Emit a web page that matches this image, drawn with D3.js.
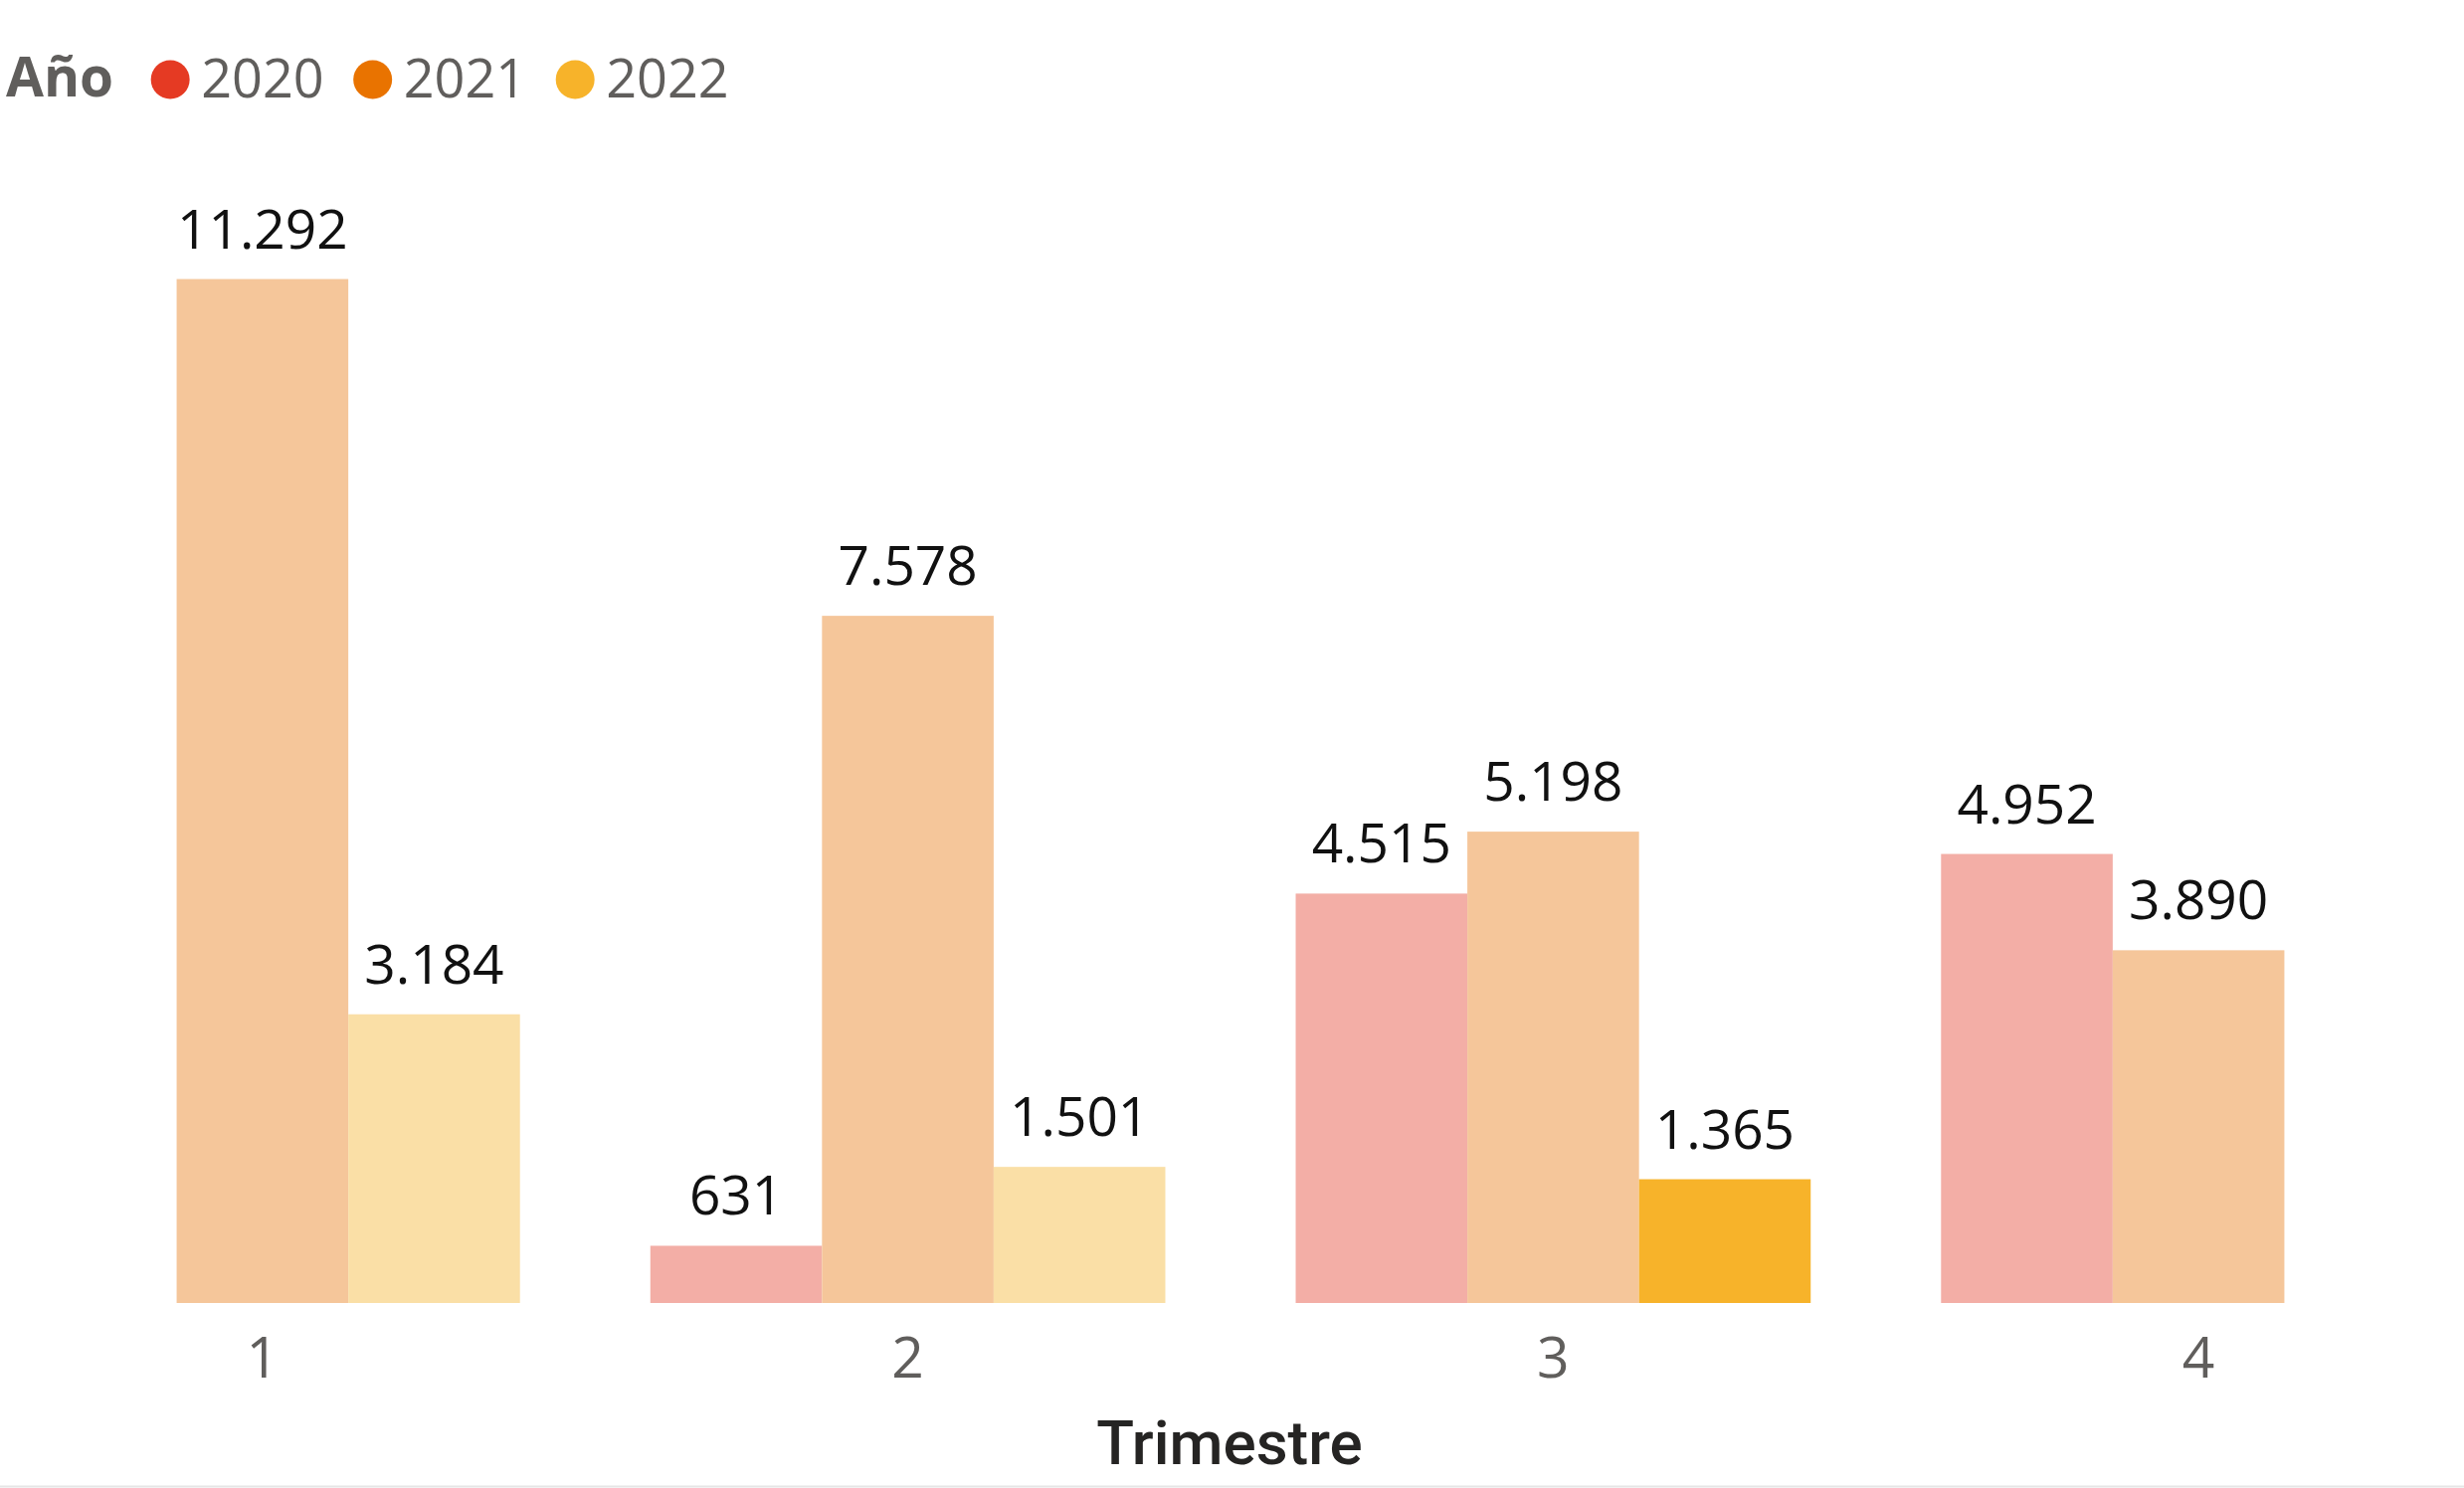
<!DOCTYPE html>
<html>
<head>
<meta charset="utf-8">
<script src="https://cdn.jsdelivr.net/npm/d3@7"></script>
<style>
  html, body { margin: 0; padding: 0; background: #fff; }
  svg { display: block; }
</style>
</head>
<body>
<div id="chart"></div>
<script>
const width = 2477;
const height = 1496;

const quarters = ["1", "2", "3", "4"];
const years = ["2020", "2021", "2022"];
const values2020 = [null, 631, 4515, 4952];
const values2021 = [11292, 7578, 5198, 3890];
const values2022 = [3184, 1501, 1365, null];

const legendColors = { "2020": "#E53A23", "2021": "#E97300", "2022": "#F7B32A" };
const fadedColors = { "2020": "#F3AEA6", "2021": "#F5C69A", "2022": "#FADFA6" };
const highlighted = { year: "2022", quarter: "3" };

const seriesByYear = { "2020": values2020, "2021": values2021, "2022": values2022 };

const data = [];
quarters.forEach((q, i) => {
    years.forEach(yr => {
        const v = seriesByYear[yr][i];
        if (v != null) data.push({ quarter: q, year: yr, value: v });
    });
});

const svg = d3.select('#chart')
    .append('svg')
    .attr('width', width)
    .attr('height', height);

const x0 = d3.scaleBand()
    .domain(quarters)
    .range([5, 2469])
    .paddingInner(0.202)
    .paddingOuter(0);

const x1 = d3.scaleBand()
    .domain(years)
    .range([0, x0.bandwidth()]);

const y = d3.scaleLinear()
    .domain([0, 12000])
    .range([1310, 216]);

const fmt = d3.formatLocale({ decimal: ",", thousands: ".", grouping: [3], currency: ["", "€"] }).format(",d");

// bars
svg.append("g")
    .selectAll("rect")
    .data(data)
    .join("rect")
        .attr("x", d => x0(d.quarter) + x1(d.year))
        .attr("y", d => y(d.value))
        .attr("width", x1.bandwidth())
        .attr("height", d => y(0) - y(d.value))
        .attr("fill", d => (d.year === highlighted.year && d.quarter === highlighted.quarter)
            ? legendColors[d.year] : fadedColors[d.year]);

// data labels
svg.append("g")
    .selectAll("text")
    .data(data)
    .join("text")
        .attr("x", d => x0(d.quarter) + x1(d.year) + x1.bandwidth() / 2)
        .attr("y", d => y(d.value) - 31)
        .attr("text-anchor", "middle")
        .attr("font-family", "'Open Sans', 'Noto Sans', sans-serif")
        .attr("font-size", "55px")
        .attr("fill", "#111")
        .text(d => fmt(d.value));

// x axis
const xAxis = svg.append("g")
    .attr("transform", `translate(0, 1310)`)
    .call(d3.axisBottom(x0).tickSize(0).tickPadding(0));
xAxis.select(".domain").remove();
xAxis.selectAll("text")
    .attr("dy", null)
    .attr("y", 75)
    .attr("font-family", "'Open Sans', 'Noto Sans', sans-serif")
    .attr("font-size", "57px")
    .attr("fill", "#605E5C");

// x title
svg.append("text")
    .attr("x", 1236)
    .attr("y", 1472)
    .attr("text-anchor", "middle")
    .attr("font-family", "Roboto, sans-serif")
    .attr("font-weight", 500)
    .attr("font-size", "62px")
    .attr("fill", "#252423")
    .text("Trimestre");

// bottom border
svg.append("line")
    .attr("x1", 0).attr("x2", width)
    .attr("y1", 1494.5).attr("y2", 1494.5)
    .attr("stroke", "#E6E6E6")
    .attr("stroke-width", 2);

// legend
const legend = svg.append("g");
const legendTitle = legend.append("text")
    .attr("x", 6)
    .attr("y", 97)
    .attr("font-family", "'Open Sans', sans-serif")
    .attr("font-weight", 700)
    .attr("font-size", "55px")
    .attr("fill", "#605E5C")
    .text("Año");

let cursor = 6 + legendTitle.node().getComputedTextLength() + 38;
years.forEach(yr => {
    legend.append("circle")
        .attr("cx", cursor + 19)
        .attr("cy", 80)
        .attr("r", 19.5)
        .attr("fill", legendColors[yr]);
    const t = legend.append("text")
        .attr("x", cursor + 50)
        .attr("y", 98)
        .attr("font-family", "'Open Sans', sans-serif")
        .attr("font-size", "54px")
        .attr("fill", "#605E5C")
        .text(yr);
    cursor += 50 + t.node().getComputedTextLength() + 30;
});
</script>
</body>
</html>
